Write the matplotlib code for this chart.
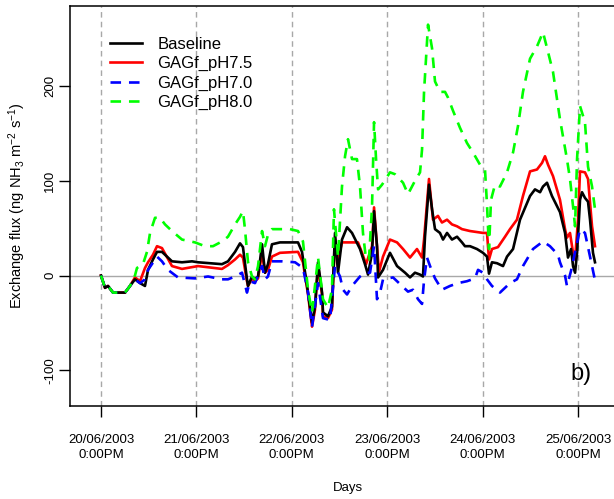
import matplotlib
matplotlib.use('Agg')
import matplotlib.pyplot as plt
from matplotlib.lines import Line2D

plt.rcParams['font.family'] = ['Liberation Sans', 'DejaVu Sans']
plt.rcParams['mathtext.default'] = 'regular'

# time in days since 20/06/2003 12:00
baseline_t = [0, .042, .073, .126, .252, .304, .356, .409, .461, .493, .545, .587, .639, .744, .849, .954, 1.017,
              1.268, 1.331, 1.405, 1.457, 1.488, 1.530, 1.541, 1.583, 1.614, 1.646, 1.688, 1.719, 1.750, 1.792,
              1.876, 2.065, 2.107, 2.170, 2.212, 2.243, 2.275, 2.317, 2.327, 2.379, 2.421, 2.453, 2.484, 2.526,
              2.579, 2.631, 2.715, 2.767, 2.799, 2.841, 2.862, 2.893, 2.904, 2.956, 3.029, 3.103, 3.187, 3.239,
              3.291, 3.344, 3.375, 3.396, 3.438, 3.470, 3.501, 3.553, 3.585, 3.627, 3.679, 3.732, 3.784, 3.815,
              3.868, 3.941, 4.004, 4.046, 4.067, 4.098, 4.151, 4.214, 4.256, 4.319, 4.392, 4.497, 4.549, 4.602,
              4.633, 4.675, 4.727, 4.811, 4.864, 4.895, 4.927, 4.948, 4.969, 4.990, 5.021, 5.042, 5.073, 5.105,
              5.126, 5.157, 5.178]
baseline_v = [0, -13, -11, -18, -18, -11, -4, -8, -11, 6, 17, 25, 25, 15, 14, 15, 14, 12, 15, 25, 34, 30, -4, -11,
              -1, -4, -1, 33, 3, 12, 33, 35, 35, 25, -18, -50, -33, 14, -18, -39, -43, -33, 45, 3, 38, 51, 45, 28,
              12, 1, 24, 68, 31, -2, 6, 24, 10, 3, -2, 3, 1, -1, 41, 96, 70, 49, 45, 38, 45, 38, 41, 35, 31, 31, 28,
              24, 20, 2, 14, 13, 10, 20, 28, 59, 84, 91, 88, 94, 98, 84, 67, 45, 19, 28, 10, 3, 24, 80, 88, 82, 78,
              59, 24, 14]

ph75_t = [0, .042, .073, .126, .252, .304, .356, .409, .461, .493, .545, .587, .639, .744, .849, 1.017, 1.268,
          1.331, 1.405, 1.457, 1.488, 1.530, 1.541, 1.583, 1.614, 1.646, 1.688, 1.719, 1.750, 1.792, 1.876, 2.065,
          2.117, 2.170, 2.212, 2.243, 2.275, 2.317, 2.327, 2.379, 2.421, 2.453, 2.484, 2.526, 2.610, 2.694, 2.736,
          2.778, 2.841, 2.862, 2.893, 2.914, 2.956, 3.029, 3.103, 3.166, 3.239, 3.312, 3.365, 3.386, 3.438, 3.480,
          3.532, 3.574, 3.627, 3.679, 3.732, 3.784, 3.868, 4.004, 4.046, 4.067, 4.098, 4.161, 4.235, 4.287, 4.360,
          4.423, 4.497, 4.570, 4.623, 4.654, 4.686, 4.738, 4.811, 4.864, 4.884, 4.916, 4.948, 4.969, 5.000, 5.021,
          5.073, 5.105, 5.147, 5.178]
ph75_v = [0, -13, -11, -18, -18, -11, -2, -6, 8, 14, 22, 31, 29, 10, 7, 10, 7, 11, 17, 22, 19, -6, -11, -3, -6, -3,
          24, 3, 6, 20, 24, 25, 14, -20, -54, -36, 10, -20, -43, -45, -36, 38, 17, 35, 35, 35, 24, 12, 31, 72, 31,
          4, 20, 38, 35, 28, 19, 28, 19, 38, 102, 59, 63, 56, 59, 54, 52, 49, 47, 45, 45, 17, 28, 30, 41, 49, 59,
          84, 110, 112, 119, 126, 117, 105, 80, 49, 40, 45, 24, 17, 59, 110, 109, 102, 52, 31]

ph70_t = [0, .042, .073, .126, .252, .304, .356, .409, .461, .493, .587, .639, .702, .807, .985, 1.122, 1.268,
          1.331, 1.405, 1.478, 1.530, 1.562, 1.614, 1.688, 1.719, 1.750, 1.792, 1.897, 2.034, 2.117, 2.170, 2.212,
          2.275, 2.327, 2.400, 2.453, 2.505, 2.537, 2.579, 2.631, 2.715, 2.767, 2.820, 2.862, 2.893, 2.925, 2.956,
          3.061, 3.155, 3.218, 3.270, 3.323, 3.365, 3.386, 3.417, 3.449, 3.501, 3.574, 3.658, 3.742, 3.836, 3.920,
          3.952, 4.004, 4.046, 4.098, 4.182, 4.287, 4.360, 4.423, 4.528, 4.633, 4.706, 4.790, 4.811, 4.864, 4.884,
          4.927, 4.969, 5.021, 5.073, 5.126, 5.178]
ph70_v = [0, -13, -11, -18, -18, -11, -4, -8, -4, 6, 20, 15, 6, -2, -3, -1, -4, -4, -1, 3, -18, -6, -8, 10, -4, -1,
          15, 15, 14, 8, -18, -54, -8, -45, -47, 10, -1, -15, -20, -11, -1, 3, 3, 31, -25, -18, -4, -2, -11, -17,
          -15, -25, -30, -5, 19, 10, -3, -15, -11, -8, -6, -3, 6, 3, -4, -11, -18, -8, -4, 10, 28, 36, 31, 22, 14,
          0, -11, 5, 25, 49, 45, 20, -5]

ph80_t = [0, .042, .073, .126, .252, .304, .356, .377, .440, .482, .514, .566, .618, .671, .744, .849, .985, 1.090,
          1.174, 1.268, 1.331, 1.405, 1.457, 1.488, 1.509, 1.541, 1.583, 1.614, 1.646, 1.688, 1.719, 1.750, 1.792,
          1.897, 1.981, 2.065, 2.117, 2.170, 2.212, 2.275, 2.327, 2.379, 2.421, 2.442, 2.484, 2.526, 2.558, 2.589,
          2.631, 2.683, 2.715, 2.746, 2.778, 2.809, 2.841, 2.862, 2.883, 2.904, 2.946, 3.029, 3.082, 3.166, 3.218,
          3.291, 3.344, 3.365, 3.386, 3.428, 3.470, 3.501, 3.553, 3.606, 3.637, 3.690, 3.763, 3.836, 3.899, 3.973,
          4.025, 4.046, 4.067, 4.088, 4.130, 4.182, 4.256, 4.319, 4.371, 4.423, 4.497, 4.570, 4.633, 4.686, 4.738,
          4.811, 4.884, 4.916, 4.948, 4.969, 4.990, 5.021, 5.073, 5.105, 5.147, 5.178]
ph80_v = [0, -13, -11, -18, -18, -11, 0, 8, 12, 25, 45, 61, 61, 54, 47, 38, 35, 31, 31, 36, 41, 54, 62, 68, 49, 14,
          -1, -4, 10, 47, 31, 43, 49, 49, 49, 47, 36, -15, -39, 19, -25, -34, -15, 70, 20, 94, 126, 144, 123, 123,
          94, 45, 17, 17, 73, 162, 123, 91, 96, 109, 107, 98, 86, 100, 109, 133, 194, 265, 240, 205, 194, 194, 188,
          174, 156, 140, 130, 117, 112, 75, 28, 80, 96, 94, 109, 130, 158, 194, 229, 242, 257, 236, 215, 165, 123,
          102, 73, 52, 123, 179, 162, 115, 94, 70]

series_labels = ['Baseline', 'GAGf_pH7.5', 'GAGf_pH7.0', 'GAGf_pH8.0']
tick_labels = ['20/06/2003\n0:00PM', '21/06/2003\n0:00PM', '22/06/2003\n0:00PM',
               '23/06/2003\n0:00PM', '24/06/2003\n0:00PM', '25/06/2003\n0:00PM']
y_ticks = [-100, 0, 100, 200]

fig = plt.figure(figsize=(6.14, 4.99), dpi=100)
ax = fig.add_axes([70 / 614, 1 - 406 / 499, (626 - 70) / 614, 400 / 499])

grid_col = '#A8A8A8'
for d in range(len(tick_labels)):
    ax.axvline(d, color=grid_col, lw=1.0, ls=(0, (4, 3)), zorder=1)
ax.axhline(0, color=grid_col, lw=1.0, zorder=1)

dash = (0, (4, 3))
lw = 1.9
ax.plot(ph75_t, ph75_v, color='#FF0000', lw=lw, zorder=3)
ax.plot(baseline_t, baseline_v, color='black', lw=lw, zorder=4)
ax.plot(ph70_t, ph70_v, color='#0000FF', lw=lw, ls=dash, zorder=5)
ax.plot(ph80_t, ph80_v, color='#00FF00', lw=lw, ls=dash, zorder=6)

ax.set_xlim(-0.325, 5.503)
ax.set_ylim(-137.8, 284.7)

ax.set_xticks(range(len(tick_labels)))
ax.set_xticklabels(tick_labels, fontsize=9.5, linespacing=1.4)
ax.set_yticks(y_ticks)
ax.set_yticklabels([str(v) for v in y_ticks], fontsize=9.5, rotation=90, va='center')
ax.tick_params(axis='x', length=8, width=1, pad=12, colors='black')
ax.tick_params(axis='y', length=8, width=1, pad=2, colors='black')

for s in ['left', 'bottom', 'top']:
    ax.spines[s].set_linewidth(1.1)
ax.spines['right'].set_visible(False)

ax.set_xlabel('Days', fontsize=9.5)
ax.xaxis.set_label_coords(0.5, (406 - 482) / 400)
ax.set_ylabel('Exchange flux (ng NH$_3$ m$^{-2}$ s$^{-1}$)', fontsize=10.5)
ax.yaxis.set_label_coords((28 - 70) / 556, 0.5)

handles = [Line2D([], [], color='black', lw=lw),
           Line2D([], [], color='#FF0000', lw=lw),
           Line2D([], [], color='#0000FF', lw=lw, ls=dash),
           Line2D([], [], color='#00FF00', lw=lw, ls=dash)]
ax.legend(handles, series_labels, loc='upper left', bbox_to_anchor=((110 - 70) / 556, (406 - 37) / 400),
          frameon=False, fontsize=12, borderpad=0, borderaxespad=0, handlelength=1.9,
          handletextpad=0.95, labelspacing=0.26)

ax.text((570 - 70) / 556, (406 - 380) / 400, 'b)', transform=ax.transAxes, fontsize=17, va='baseline')

fig.savefig('out.png', dpi=100)
